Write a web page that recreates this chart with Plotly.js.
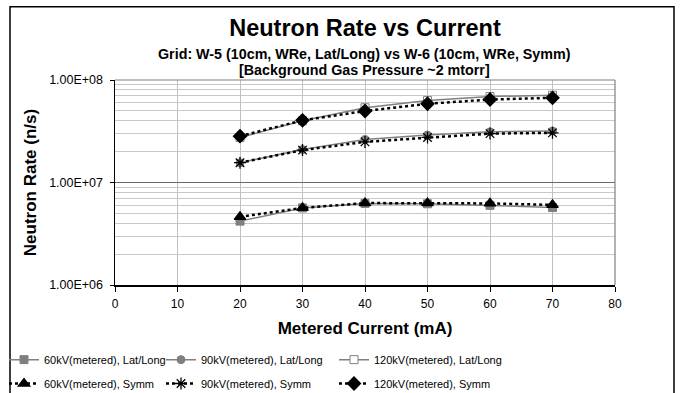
<!DOCTYPE html>
<html><head><meta charset="utf-8">
<script src="https://cdn.plot.ly/plotly-3.0.1.min.js"></script>
<style>html,body{margin:0;padding:0;background:#fff}#chart{width:680px;height:393px}</style>
</head><body><div id="chart"></div>
<script>
const current = [20, 30, 40, 50, 60, 70];
const ll60  = [4.2e6, 5.65e6, 6.25e6, 6.2e6, 5.98e6, 5.7e6];
const ll90  = [1.56e7, 2.1e7, 2.63e7, 2.9e7, 3.12e7, 3.18e7];
const ll120 = [2.75e7, 4.0e7, 5.36e7, 6.3e7, 6.9e7, 7.1e7];
const sy60  = [4.63e6, 5.65e6, 6.3e6, 6.3e6, 6.25e6, 6.05e6];
const sy90  = [1.56e7, 2.07e7, 2.49e7, 2.75e7, 3.0e7, 3.05e7];
const sy120 = [2.83e7, 4.04e7, 4.98e7, 5.86e7, 6.45e7, 6.7e7];
const names = ['60kV(metered), Lat/Long','90kV(metered), Lat/Long','120kV(metered), Lat/Long',
               '60kV(metered), Symm','90kV(metered), Symm','120kV(metered), Symm'];
const yTickVals = [1e6, 1e7, 1e8];
const yTickText = ['1.00E+06','1.00E+07','1.00E+08'];

const gray = '#808080';
const F = 'Liberation Sans, Arial, sans-serif';
function ll(y, name, sym, fill, lg){
  return {x: current, y: y, name: name, type:'scatter', mode:'lines+markers', legend: lg, showlegend:true,
    line:{color:gray, width:1.5},
    marker:{symbol:sym, size:8, color:fill, line:{color:gray, width:1}}};
}
function sy(y, name, sym, size, lg){
  return {x: current, y: y, name: name, type:'scatter', mode:'lines+markers', legend: lg, showlegend:true,
    line:{color:'#000', width:2.5, dash:'dot'},
    marker:{symbol:sym, size:size, color:'#000', line:{color:'#000', width:1.3}}};
}
const data = [
  ll(ll60, names[0], 'square', gray, 'legend'),
  ll(ll90, names[1], 'circle', gray, 'legend2'),
  ll(ll120, names[2], 'square', '#fff', 'legend3'),
  sy(sy60, names[3], 'triangle-up', 10, 'legend4'),
  sy(sy90, names[4], 'asterisk-open', 10, 'legend5'),
  sy(sy120, names[5], 'diamond', 10, 'legend6')
];
const PL = 115, PW = 500, PB = 285.5, PH = 206;
function leg(px, py){
  return {visible:true, orientation:'h', xanchor:'left', yanchor:'middle', x:(px-PL)/PW, y:(PB-py)/PH,
    font:{family:F, size:11, color:'#000'}, bgcolor:'rgba(0,0,0,0)', itemwidth:30};
}
const layout = {
  width:680, height:393, showlegend:true,
  margin:{l:115, r:65, t:79.5, b:107.5, autoexpand:false},
  paper_bgcolor:'#fff', plot_bgcolor:'#fff',
  font:{family:F, color:'#000'},
  title:{text:'<b>Neutron Rate vs Current</b>', font:{family:F, size:23.5, color:'#000'},
    x:0.5, xanchor:'center', y:1-28/393, yanchor:'middle', xref:'paper'},
  xaxis:{range:[0,80], dtick:10, tick0:0, showgrid:true, gridcolor:'#c0c0c0', gridwidth:1,
    zeroline:false, showline:true, linecolor:'#000', linewidth:1.5, automargin:false,
    ticks:'outside', ticklen:5, tickcolor:'#000', ticklabelstandoff:2,
    tickfont:{family:F, size:12, color:'#000'},
    title:{text:'<b>Metered Current (mA)</b>', font:{family:F, size:17, color:'#000'}, standoff:12}},
  yaxis:{type:'log', range:[6,8], tickvals:yTickVals, ticktext:yTickText, automargin:false,
    showgrid:true, gridcolor:'#6a6a6a', gridwidth:1.2,
    minor:{dtick:'D1', showgrid:true, gridcolor:'#c8c8c8', gridwidth:1, ticks:''},
    zeroline:false, showline:true, linecolor:'#000', linewidth:1.5,
    ticks:'outside', ticklen:4, tickcolor:'#000', ticklabelstandoff:4,
    tickfont:{family:F, size:12.5, color:'#000'},
    title:{text:'<b>Neutron Rate (n/s)</b>', font:{family:F, size:17, color:'#000'}, standoff:8}},
  legend: leg(4, 360.5), legend2: leg(161, 360.5), legend3: leg(334, 360.5),
  legend4: leg(4, 384.5), legend5: leg(161, 384.5), legend6: leg(334, 384.5),
  shapes:[
    {type:'line', xref:'paper', yref:'paper', x0:0, x1:1, y0:1, y1:1, line:{color:gray, width:1.2}},
    {type:'line', xref:'paper', yref:'paper', x0:1, x1:1, y0:0, y1:1, line:{color:gray, width:1.2}},
    {type:'rect', xref:'paper', yref:'paper', x0:(10-PL)/PW, x1:(674-PL)/PW,
      y0:(PB-400)/PH, y1:(PB-6)/PH, line:{color:'#000', width:1.5}, fillcolor:'rgba(0,0,0,0)'}
  ],
  annotations:[
    {text:'<b>Grid: W-5 (10cm, WRe, Lat/Long) vs W-6 (10cm, WRe, Symm)</b>', xref:'paper', yref:'paper',
      x:(364-PL)/PW, y:(PB-53)/PH, xanchor:'center', yanchor:'middle', showarrow:false,
      font:{family:F, size:14.3, color:'#000'}},
    {text:'<b>[Background Gas Pressure ~2 mtorr]</b>', xref:'paper', yref:'paper',
      x:(364-PL)/PW, y:(PB-69.7)/PH, xanchor:'center', yanchor:'middle', showarrow:false,
      font:{family:F, size:14.3, color:'#000'}}
  ]
};
Plotly.newPlot('chart', data, layout, {displayModeBar:false, staticPlot:true});
</script></body></html>
